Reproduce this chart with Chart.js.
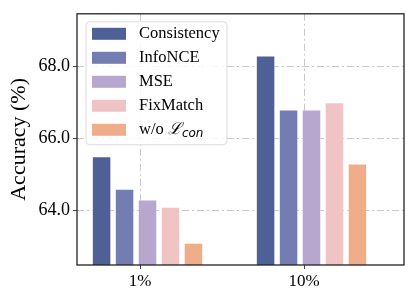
<!DOCTYPE html>
<html>
<head>
<meta charset="utf-8">
<script src="https://cdn.jsdelivr.net/npm/chart.js@4"></script>
<style>
  body { margin: 0; background: #fff; }
  #wrap { width: 415px; height: 302px; }
</style>
</head>
<body>
<div id="wrap"><canvas id="accChart"></canvas></div>
<script>
const categories = ['1%', '10%'];
const seriesNames = ['Consistency', 'InfoNCE', 'MSE', 'FixMatch', 'w/o'];
const consistency = [65.5, 68.3];
const infoNCE = [64.6, 66.8];
const mse = [64.3, 66.8];
const fixMatch = [64.1, 67.0];
const withoutCon = [63.1, 65.3];
const yTicks = [64.0, 66.0, 68.0];

const colors = ['#4e6096', '#747db2', '#b7a6cd', '#f0c4c4', '#f0ad89'];
const allSeries = [consistency, infoNCE, mse, fixMatch, withoutCon];

const serif = "'Liberation Serif', 'Times New Roman', serif";

// legend box drawn inside the plot, like matplotlib's
const legendBox = {
    id: 'legendBox',
    afterDatasetsDraw(chart) {
        const { ctx, chartArea } = chart;
        // frame round the plot
        ctx.save();
        ctx.strokeStyle = '#222';
        ctx.lineWidth = 1.3;
        ctx.strokeRect(chartArea.left, chartArea.top, chartArea.right - chartArea.left, chartArea.bottom - chartArea.top);

        const x0 = chartArea.left + 9, y0 = chartArea.top + 8;
        const w = 141, h = 123;
        ctx.beginPath();
        ctx.roundRect(x0, y0, w, h, 4);
        ctx.fillStyle = 'rgba(255,255,255,0.85)';
        ctx.fill();
        ctx.strokeStyle = '#dcdcdc';
        ctx.lineWidth = 1;
        ctx.stroke();

        chart.data.datasets.forEach((ds, i) => {
            const cy = y0 + 12 + i * 24;
            ctx.fillStyle = ds.backgroundColor;
            ctx.fillRect(x0 + 6, cy - 6, 34, 12);
            ctx.fillStyle = '#000';
            ctx.textBaseline = 'middle';
            ctx.textAlign = 'left';
            ctx.font = '16.5px ' + serif;
            const tx = x0 + 53;
            if (i === 4) {
                ctx.fillText(ds.label + ' ', tx, cy);
                let px = tx + ctx.measureText(ds.label + ' ').width;
                ctx.font = "italic 16.5px 'DejaVu Serif', serif";
                ctx.fillText('\u2112', px, cy);
                px += ctx.measureText('\u2112').width;
                ctx.font = "italic 12px 'DejaVu Sans', sans-serif";
                ctx.fillText('con', px, cy + 4);
            } else {
                ctx.fillText(ds.label, tx, cy);
            }
        });
        ctx.restore();
    }
};

new Chart(document.getElementById('accChart'), {
    type: 'bar',
    data: {
        datasets: allSeries.map((vals, i) => ({
            label: seriesNames[i],
            data: vals.map((v, j) => ({ x: j, y: v })),
            backgroundColor: colors[i],
            borderColor: 'rgba(255,255,255,0.45)',
            borderWidth: 1,
            categoryPercentage: 0.7,
            barPercentage: 0.85
        }))
    },
    options: {
        responsive: true,
        maintainAspectRatio: false,
        animation: false,
        layout: { padding: { top: 12, right: 11, left: 0, bottom: 0 } },
        plugins: {
            legend: { display: false },
            tooltip: { enabled: false }
        },
        scales: {
            x: {
                type: 'linear',
                offset: false,
                min: -0.43,
                max: 1.564,
                afterBuildTicks: s => { s.ticks = categories.map((c, i) => ({ value: i - 0.045 })); },
                afterFit: s => { s.height = 37; },
                ticks: {
                    callback: (v, i) => categories[i],
                    color: '#000',
                    font: { family: serif, size: 17 },
                    padding: 2,
                    maxRotation: 0
                },
                grid: {
                    offset: false,
                    color: '#c8c8c8',
                    lineWidth: 1,
                    tickLength: 4,
                    tickColor: '#444',
                    tickBorderDash: []
                },
                border: { display: false, dash: [7, 3, 2, 3] }
            },
            y: {
                min: 62.48,
                max: 69.46,
                afterBuildTicks: s => { s.ticks = yTicks.map(v => ({ value: v })); },
                afterFit: s => { s.width = 77; },
                ticks: {
                    callback: v => v.toFixed(1),
                    color: '#000',
                    font: { family: serif, size: 18 },
                    padding: 3
                },
                title: {
                    display: true,
                    text: 'Accuracy (%)',
                    color: '#000',
                    font: { family: serif, size: 22 },
                    padding: { top: 6, bottom: 0 }
                },
                grid: {
                    color: '#c8c8c8',
                    lineWidth: 1,
                    tickLength: 4,
                    tickColor: '#444',
                    tickBorderDash: []
                },
                border: { display: false, dash: [7, 3, 2, 3] }
            }
        }
    },
    plugins: [legendBox]
});
</script>
</body>
</html>
